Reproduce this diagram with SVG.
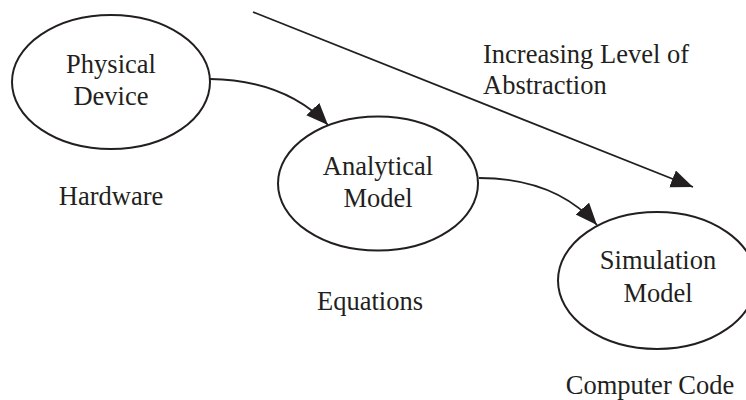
<svg xmlns="http://www.w3.org/2000/svg" width="746" height="400" viewBox="0 0 746 400">
<style>
.node{fill:#fff;stroke:#231f20;stroke-width:2}
.t{font-family:"Liberation Serif","Times New Roman",serif;font-size:26.5px;fill:#231f20}
.c{text-anchor:middle}
.edge{fill:none;stroke:#231f20;stroke-width:1.8}
</style>
<defs>
<marker id="ah" markerUnits="userSpaceOnUse" markerWidth="24" markerHeight="20" refX="22" refY="9" orient="auto">
<path d="M0,0 L22,9 L0,18 Z" fill="#231f20"/>
</marker>
</defs>
<rect width="746" height="400" fill="#fff"/>
<g id="connectors">
<path class="edge" d="M210,79 Q285,80 328,125" marker-end="url(#ah)"/>
<path class="edge" d="M479,178 Q555,178 597,225" marker-end="url(#ah)"/>
<path class="edge" d="M253,12 L693,187" marker-end="url(#ah)"/>
</g>
<g id="physical-device">
<ellipse class="node" cx="111" cy="82" rx="99" ry="67"/>
<text class="t c" x="111" y="73">Physical</text>
<text class="t c" x="111" y="105">Device</text>
</g>
<g id="analytical-model">
<ellipse class="node" cx="378" cy="183.5" rx="100" ry="67"/>
<text class="t c" x="378" y="175">Analytical</text>
<text class="t c" x="378" y="207">Model</text>
</g>
<g id="simulation-model">
<ellipse class="node" cx="657" cy="280.5" rx="99" ry="68.5"/>
<text class="t c" x="658" y="269">Simulation</text>
<text class="t c" x="658" y="302">Model</text>
</g>
<g id="labels">
<text class="t c" x="111" y="205">Hardware</text>
<text class="t c" x="370" y="310">Equations</text>
<text class="t c" x="650" y="394">Computer Code</text>
<text class="t" x="483" y="63">Increasing Level of</text>
<text class="t" x="483" y="94">Abstraction</text>
</g>
</svg>
